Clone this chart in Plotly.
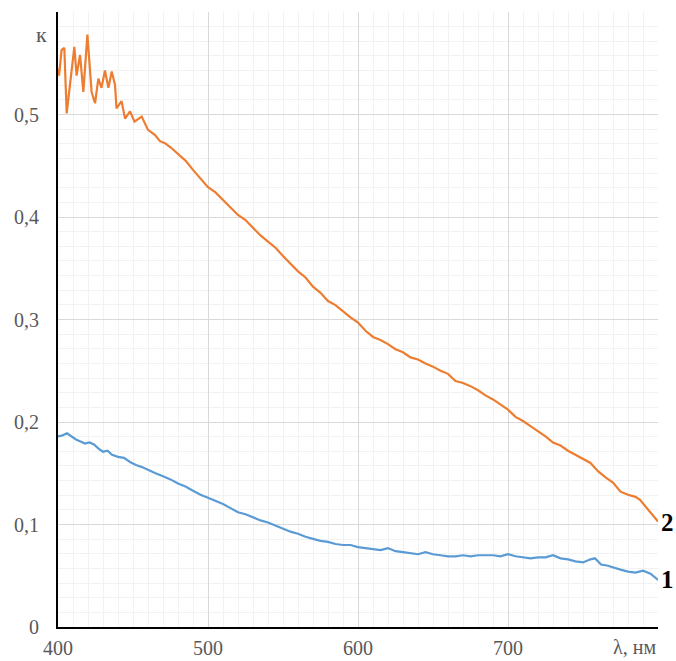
import plotly.graph_objects as go

# Curve 2 (orange)
x2 = [400, 400.7, 402.4, 404.2, 405.8, 408, 410.9, 412.4, 414.7, 416.9, 419.6, 422.4, 424.7,
      426.9, 429, 431.3, 433.6, 435.8, 438, 439, 442.4, 444.7, 448, 451, 455.8, 460, 464.7,
      468, 471.3, 475, 480, 485, 490, 495, 500, 505, 510, 515, 520, 525, 530, 535, 540, 545,
      550, 555, 560, 565, 570, 575, 580, 585, 590, 595, 600, 605, 610, 615, 620, 625, 630,
      635, 640, 645, 650, 655, 660, 665, 670, 675, 680, 685, 690, 695, 700, 705, 710, 715,
      720, 725, 730, 735, 740, 745, 750, 755, 760, 765, 770, 775, 780, 785, 788, 792, 795, 800]
y2 = [0.545, 0.538, 0.563, 0.565, 0.501, 0.529, 0.566, 0.538, 0.558, 0.522, 0.578, 0.522, 0.511,
      0.535, 0.526, 0.543, 0.526, 0.542, 0.529, 0.506, 0.513, 0.496, 0.503, 0.493, 0.498, 0.485, 0.480,
      0.474, 0.472, 0.468, 0.461, 0.455, 0.446, 0.438, 0.429, 0.424, 0.417, 0.409, 0.402, 0.397, 0.389,
      0.382, 0.376, 0.370, 0.362, 0.354, 0.347, 0.341, 0.332, 0.326, 0.318, 0.314, 0.308, 0.302, 0.297,
      0.289, 0.283, 0.280, 0.276, 0.271, 0.268, 0.263, 0.261, 0.257, 0.254, 0.250, 0.247, 0.240, 0.238,
      0.235, 0.231, 0.226, 0.222, 0.217, 0.212, 0.205, 0.201, 0.196, 0.191, 0.186, 0.180, 0.177, 0.172,
      0.168, 0.164, 0.160, 0.152, 0.146, 0.141, 0.132, 0.129, 0.127, 0.124, 0.117, 0.112, 0.103]

# Curve 1 (blue)
x1 = [400, 403, 406, 409, 412, 415, 418, 421, 424, 427, 430, 433, 436, 440, 444, 448, 452, 456,
      460, 465, 470, 475, 480, 485, 490, 495, 500, 505, 510, 515, 520, 525, 530, 535, 540, 545,
      550, 555, 560, 565, 570, 575, 580, 585, 590, 595, 600, 605, 610, 615, 620, 625, 630, 635,
      640, 645, 650, 655, 660, 665, 670, 675, 680, 685, 690, 695, 700, 705, 710, 715, 720, 725,
      730, 735, 740, 745, 750, 755, 758, 762, 766, 770, 775, 780, 785, 790, 795, 800]
y1 = [0.186, 0.187, 0.189, 0.186, 0.183, 0.181, 0.179, 0.180, 0.178, 0.174, 0.171, 0.172, 0.168,
      0.166, 0.165, 0.161, 0.158, 0.156, 0.153, 0.150, 0.147, 0.144, 0.140, 0.137, 0.133, 0.129,
      0.126, 0.123, 0.120, 0.116, 0.112, 0.110, 0.107, 0.104, 0.102, 0.099, 0.096, 0.093, 0.091,
      0.088, 0.086, 0.084, 0.083, 0.081, 0.080, 0.080, 0.078, 0.077, 0.076, 0.075, 0.077, 0.074,
      0.073, 0.072, 0.071, 0.073, 0.071, 0.070, 0.069, 0.069, 0.070, 0.069, 0.070, 0.070, 0.070,
      0.069, 0.071, 0.069, 0.068, 0.067, 0.068, 0.068, 0.070, 0.067, 0.066, 0.064, 0.063, 0.066,
      0.067, 0.061, 0.060, 0.058, 0.056, 0.054, 0.053, 0.055, 0.052, 0.046]

x_ticks = [400, 500, 600, 700, 800]
x_tick_labels = ["400", "500", "600", "700", ""]
y_ticks = [0, 0.1, 0.2, 0.3, 0.4, 0.5, 0.6]
y_tick_labels = ["0", "0,1", "0,2", "0,3", "0,4", "0,5", ""]

FONT = "Liberation Serif, Times New Roman, serif"
W, H = 676, 661
L, R, T, B = 58, 18, 12, 34

fig = go.Figure()
fig.add_trace(go.Scatter(x=x2, y=y2, mode="lines", line=dict(color="#ED7D31", width=2.2), showlegend=False))
fig.add_trace(go.Scatter(x=x1, y=y1, mode="lines", line=dict(color="#5B9BD5", width=2.2), showlegend=False))

pw = W - L - R
ph = H - T - B

fig.update_layout(
    width=W, height=H,
    margin=dict(l=L, r=R, t=T, b=B, autoexpand=False),
    paper_bgcolor="white", plot_bgcolor="white",
    font=dict(family=FONT, size=20, color="#595959"),
    xaxis=dict(range=[400, 800], tickvals=x_ticks, ticktext=x_tick_labels,
               showgrid=True, gridcolor="#d9d9d9", gridwidth=1,
               minor=dict(dtick=10, tick0=400, showgrid=True, gridcolor="#f2f2f2", gridwidth=1),
               showline=True, linecolor="black", linewidth=2, zeroline=False,
               ticks="", ticklabelstandoff=2, automargin=False),
    yaxis=dict(range=[0, 0.6], tickvals=y_ticks, ticktext=y_tick_labels,
               showgrid=True, gridcolor="#d9d9d9", gridwidth=1,
               minor=dict(dtick=0.1 / 7, tick0=0, showgrid=True, gridcolor="#f2f2f2", gridwidth=1),
               showline=True, linecolor="black", linewidth=2, zeroline=False,
               ticks="", ticklabelstandoff=13, automargin=False),
    annotations=[
        dict(text="к", xref="paper", yref="paper", x=(34 - L) / pw, y=(H - B - 20) / ph,
             showarrow=False, font=dict(family=FONT, size=22, color="#595959")),
        dict(text="λ, нм", xref="paper", yref="paper", x=1.0, y=0, xanchor="right", yanchor="top",
             yshift=-7, showarrow=False, font=dict(family=FONT, size=20, color="#595959")),
        dict(text="<b>2</b>", xref="paper", yref="y", x=1.0, y=0.1015, xanchor="left", xshift=1,
             showarrow=False, font=dict(family=FONT, size=25, color="black")),
        dict(text="<b>1</b>", xref="paper", yref="y", x=1.0, y=0.046, xanchor="left", xshift=1,
             showarrow=False, font=dict(family=FONT, size=25, color="black")),
    ],
)

fig.write_html("out.html", config={"displayModeBar": False},
               post_script="document.body.style.margin='0';document.body.style.overflow='hidden';")
